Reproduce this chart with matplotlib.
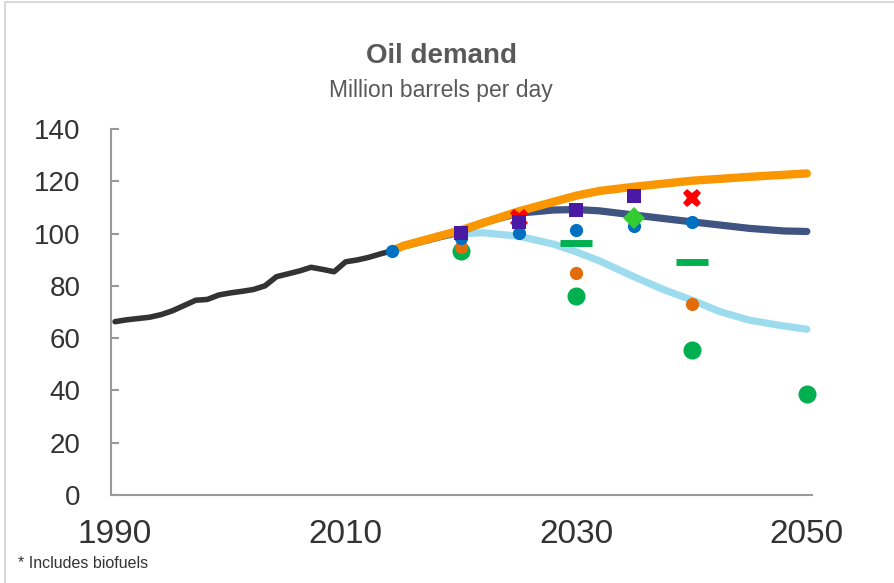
import matplotlib
matplotlib.use("Agg")
import matplotlib.pyplot as plt
from matplotlib import font_manager
from matplotlib.patches import Rectangle

# ---------------- data ----------------
hist_years = list(range(1990, 2015))
hist_vals = [66.3, 67.0, 67.5, 68.0, 69.0, 70.5, 72.5, 74.5, 74.8, 76.5, 77.3, 77.9,
             78.6, 80.0, 83.5, 84.6, 85.7, 87.1, 86.3, 85.4, 89.2, 89.9, 90.9, 92.2, 93.4]

orange_years = [2014, 2015, 2020, 2025, 2030, 2032, 2035, 2040, 2045, 2050]
orange_vals = [93.4, 95.3, 101.3, 108.5, 114.5, 116.3, 117.9, 120.2, 121.7, 123.0]

navy_years = [2014, 2015, 2020, 2022, 2025, 2028, 2030, 2032, 2035, 2040, 2045, 2048, 2050]
navy_vals = [93.4, 95.2, 100.8, 104.3, 107.8, 109.0, 109.2, 108.7, 107.1, 104.5, 102.0, 101.0, 100.8]

light_years = [2014, 2015, 2018, 2020, 2022, 2025, 2028, 2030, 2032, 2035, 2037.5,
               2040, 2042.5, 2045, 2047.5, 2050]
light_vals = [93.4, 95.3, 98.8, 100.0, 100.3, 99.0, 96.0, 93.0, 89.6, 83.5, 78.7,
              74.6, 70.1, 66.9, 65.0, 63.4]

blue_dot_years = [2014, 2020, 2025, 2030, 2035, 2040]
blue_dot_vals = [93.4, 98.3, 100.2, 101.3, 102.8, 104.5]

orange_dot_years = [2020, 2030, 2040]
orange_dot_vals = [95.0, 85.0, 72.9]

green_dot_years = [2020, 2030, 2040, 2050]
green_dot_vals = [93.4, 76.1, 55.4, 38.5]

square_years = [2020, 2025, 2030, 2035]
square_vals = [100.3, 104.5, 109.0, 114.4]

cross_years = [2025, 2040]
cross_vals = [105.8, 113.7]

diamond_years = [2035]
diamond_vals = [105.9]

dash_years = [2030, 2040]
dash_vals = [96.4, 89.1]

yticks = [0, 20, 40, 60, 80, 100, 120, 140]
xticks = [1990, 2010, 2030, 2050]

# ---------------- figure ----------------
names = {f.name for f in font_manager.fontManager.ttflist}
base = "Liberation Sans" if "Liberation Sans" in names else "DejaVu Sans"
narrow = "Liberation Sans Narrow" if "Liberation Sans Narrow" in names else base
plt.rcParams['font.family'] = [base, 'DejaVu Sans']

fig = plt.figure(figsize=(8.94, 5.83), dpi=100)
ax = fig.add_axes([111/894, 1-495/583, (812-111)/894, (495-129)/583])

# border of the figure (left/top visible)
fig.patches.append(Rectangle((5/894, -0.05), 1.2, 1 - 2/583 + 0.05, transform=fig.transFigure,
                             fill=False, edgecolor='#D9D9D9', linewidth=1.5, zorder=0))

ax.plot(light_years, light_vals, color='#9DDCEE', lw=5.2, solid_capstyle='round', zorder=2)
ax.plot(navy_years, navy_vals, color='#3F5480', lw=5.2, solid_capstyle='round', zorder=3)
ax.plot(orange_years, orange_vals, color='#FA9600', lw=6.0, solid_capstyle='round', zorder=4)
ax.plot(hist_years, hist_vals, color='#333333', lw=4.0, solid_capstyle='round', zorder=5)

kw = dict(mew=0, clip_on=False)
ax.plot(green_dot_years, green_dot_vals, 'o', color='#00B050', ms=13, zorder=6, **kw)
ax.plot(orange_dot_years, orange_dot_vals, 'o', color='#E36C0A', ms=9.5, zorder=7, **kw)
ax.plot(blue_dot_years, blue_dot_vals, 'o', color='#0070C0', ms=9.5, zorder=8, **kw)
ax.plot(cross_years, cross_vals, 'X', color='#FF0000', ms=13, zorder=9, **kw)
ax.plot(diamond_years, diamond_vals, 'D', color='#33CC33', ms=11, zorder=10, **kw)
ax.plot(square_years, square_vals, 's', color='#4B1AA5', ms=10, zorder=11, **kw)
ax.plot(dash_years, dash_vals, '_', color='#00B050', ms=22.5, mew=5, zorder=12, clip_on=False)

ax.set_xlim(1989.65, 2050.45)
ax.set_ylim(0, 140)
ax.set_yticks(yticks)
ax.set_xticks(xticks)
ax.set_xticklabels([str(v) for v in xticks], family=narrow, fontsize=24, color='#333333')
ax.set_yticklabels([str(v) for v in yticks], fontsize=20, color='#333333')

for s in ['top', 'right']:
    ax.spines[s].set_visible(False)
for s in ['left', 'bottom']:
    ax.spines[s].set_color('#9A9A9A')
    ax.spines[s].set_linewidth(1.5)
ax.tick_params(axis='y', direction='in', length=6, width=1.5, color='#9A9A9A', pad=22)
ax.tick_params(axis='x', length=0, pad=17)

fig.text(441/894, 1-56/583, "Oil demand", ha='center', va='center', fontsize=20,
         fontweight='bold', color='#595959')
fig.text(441/894, 1-90/583, "Million barrels per day", ha='center', va='center',
         fontsize=16.5, color='#595959')
fig.text(18/894, 1-564/583, "* Includes biofuels", ha='left', va='center',
         fontsize=11.5, color='#333333')

fig.savefig("out.png", dpi=100)
